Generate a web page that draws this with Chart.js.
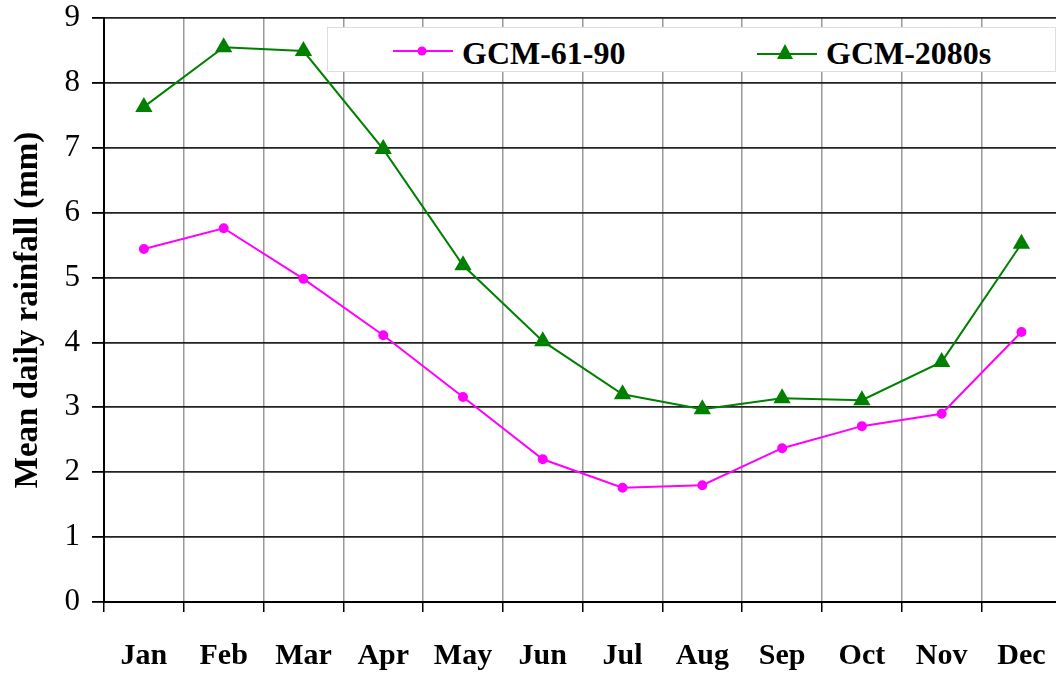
<!DOCTYPE html>
<html>
<head>
<meta charset="utf-8">
<script src="https://cdn.jsdelivr.net/npm/chart.js@4.4.1/dist/chart.umd.min.js"></script>
<style>
  html, body { margin: 0; padding: 0; background: #fff; }
  #wrap { position: relative; width: 1056px; height: 674px; overflow: hidden; }
  #legendBox {
    position: absolute; left: 327px; top: 27px; width: 729px; height: 45px;
    background: #fff; border: 1px solid #ddd; box-sizing: border-box;
    font-family: "Liberation Serif", "Times New Roman", serif; font-weight: bold; font-size: 32px;
  }
  .item { position: absolute; top: 6px; display: flex; align-items: center; height: 38px; }
  .item svg { margin-right: 9px; margin-top: -4px; }
</style>
</head>
<body>
<div id="wrap">
  <canvas id="rainGraph" width="1072" height="674"></canvas>
  <div id="legendBox">
    <div class="item" style="left:65px">
      <svg width="60" height="12"><line x1="0" y1="6" x2="60" y2="6" stroke="#ff00ff" stroke-width="2"/><circle cx="29" cy="6" r="4.5" fill="#ff00ff"/></svg>
      <span>GCM-61-90</span>
    </div>
    <div class="item" style="left:429px">
      <svg width="60" height="16"><line x1="0" y1="11" x2="60" y2="11" stroke="#008000" stroke-width="2"/><polygon points="28,1 36,16 20,16" fill="#008000"/></svg>
      <span>GCM-2080s</span>
    </div>
  </div>
</div>
<script>
const months = ['Jan','Feb','Mar','Apr','May','Jun','Jul','Aug','Sep','Oct','Nov','Dec'];
const gcm6190 = [5.44, 5.76, 4.98, 4.11, 3.16, 2.20, 1.76, 1.80, 2.37, 2.71, 2.90, 4.16];
const gcm2080 = [7.63, 8.55, 8.49, 6.98, 5.19, 4.02, 3.20, 2.97, 3.14, 3.11, 3.70, 5.52];

const serif = "'Liberation Serif', 'Times New Roman', serif";
const ctx = document.getElementById('rainGraph');

const data = {
  labels: months,
  datasets: [{
    label: 'GCM-61-90',
    data: gcm6190,
    borderColor: '#ff00ff',
    backgroundColor: '#ff00ff',
    borderWidth: 2,
    pointStyle: 'circle',
    pointRadius: 4,
    tension: 0
  }, {
    label: 'GCM-2080s',
    data: gcm2080,
    borderColor: '#008000',
    backgroundColor: '#008000',
    borderWidth: 2,
    pointStyle: 'triangle',
    pointRadius: 8,
    tension: 0
  }]
};

const config = {
  type: 'line',
  data: data,
  options: {
    responsive: false,
    animation: false,
    layout: { padding: 0 },
    plugins: {
      legend: { display: false },
      tooltip: { enabled: false }
    },
    scales: {
      x: {
        offset: true,
        grid: { offset: true, color: '#9a9a9a', lineWidth: 1.5, tickColor: '#000', tickLength: 10 },
        border: { color: '#000', width: 2 },
        ticks: {
          color: '#000',
          padding: 26,
          maxRotation: 0,
          font: { family: serif, size: 30, weight: 'bold' }
        },
        afterFit: function(scale){
          scale.height = 72;
        }
      },
      y: {
        min: 0,
        max: 9,
        grid: { color: '#222', lineWidth: 1.8, tickColor: '#000', tickLength: 12 },
        border: { color: '#000', width: 2 },
        ticks: {
          stepSize: 1,
          color: '#000',
          padding: 12,
          font: { family: serif, size: 31 }
        },
        title: {
          display: true,
          text: 'Mean daily rainfall (mm)',
          color: '#000',
          padding: { top: 9, bottom: 0 },
          font: { family: serif, size: 33, weight: 'bold' }
        },
        afterFit: function(scale){
          scale.width = 104;
          scale.paddingTop = 18;
          scale.paddingBottom = 0;
        }
      }
    }
  }
};

new Chart(ctx, config);
</script>
</body>
</html>
